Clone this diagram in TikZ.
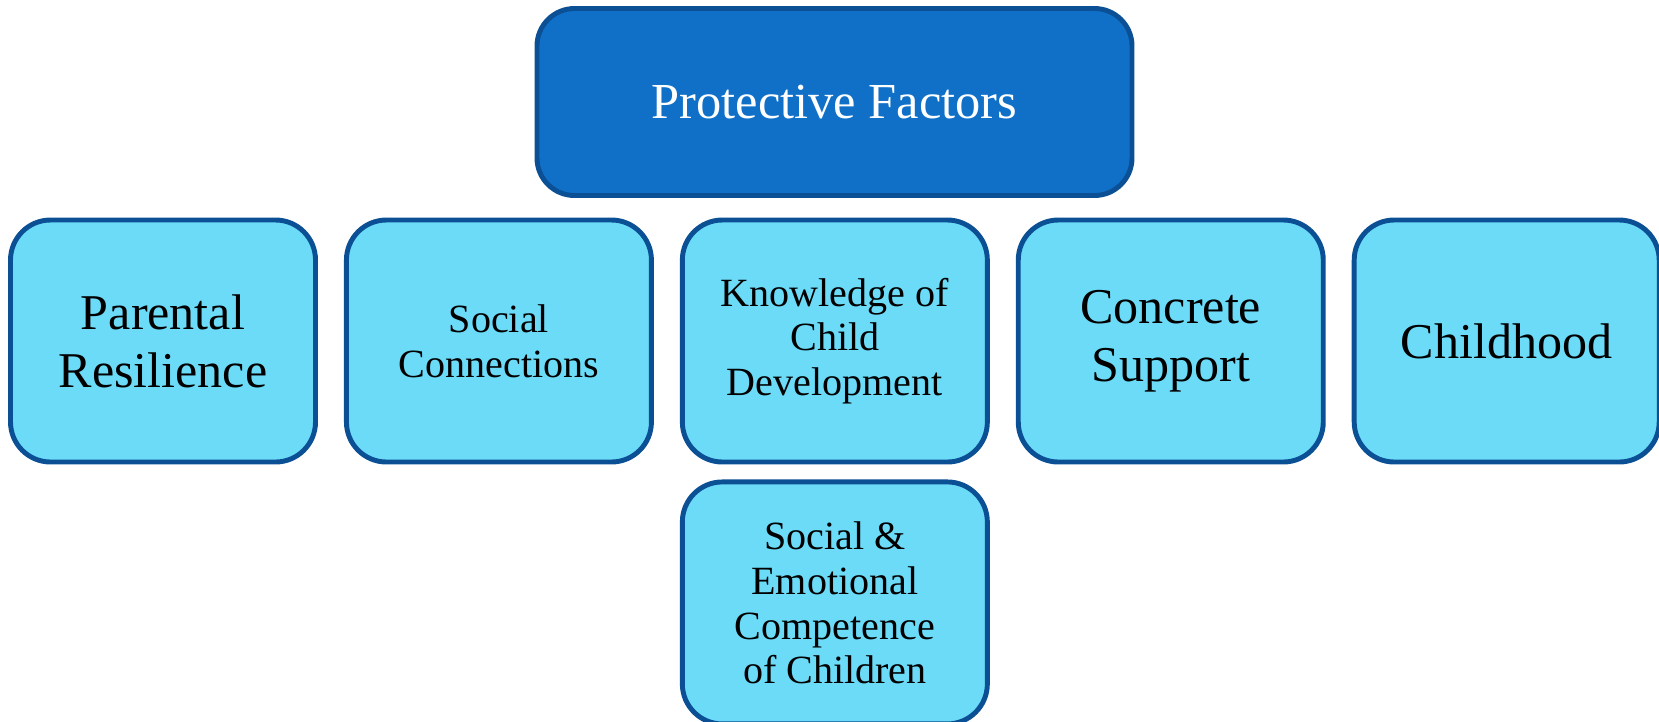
\documentclass[tikz,border=0pt]{standalone}
\usepackage{fontspec}
\setmainfont{Liberation Serif}
\usetikzlibrary{positioning}

\definecolor{pfdark}{HTML}{0B4F94}
\definecolor{pftop}{HTML}{1070C8}
\definecolor{pflight}{HTML}{6BDBF8}

\begin{document}
\begin{tikzpicture}[
  factor/.style={draw=pfdark, line width=2.8pt, fill=pflight, rounded corners=0.8cm, minimum width=6.1cm, minimum height=4.84cm, align=center, inner sep=2pt},
  bigtext/.style={font=\fontsize{28.5}{33}\selectfont},
  smalltext/.style={font=\fontsize{22.8}{25.5}\selectfont},
  header/.style={draw=pfdark, line width=2.8pt, fill=pftop, text=white, rounded corners=0.75cm, minimum width=11.9cm, minimum height=3.74cm, align=center, font=\fontsize{28.7}{33}\selectfont}
]
  \useasboundingbox (0,0) rectangle (33.18,-14.42);

  \node[header] (pf) at (16.69,-2.04) {Protective Factors};

  \node[factor, bigtext]   (pr) at (3.26,-6.82)    {Parental\\Resilience};
  \node[factor, smalltext] (sc) [right=0.52cm of pr] {Social\\Connections};
  \node[factor, smalltext] (kc) [right=0.52cm of sc] {Knowledge of\\Child\\Development};
  \node[factor, bigtext]   (cs) [right=0.52cm of kc] {Concrete\\Support};
  \node[factor, bigtext]   (ch) [right=0.52cm of cs] {Childhood};

  \node[factor, smalltext] (se) [below=0.3cm of kc] {Social \&\\Emotional\\Competence\\of Children};
\end{tikzpicture}
\end{document}
